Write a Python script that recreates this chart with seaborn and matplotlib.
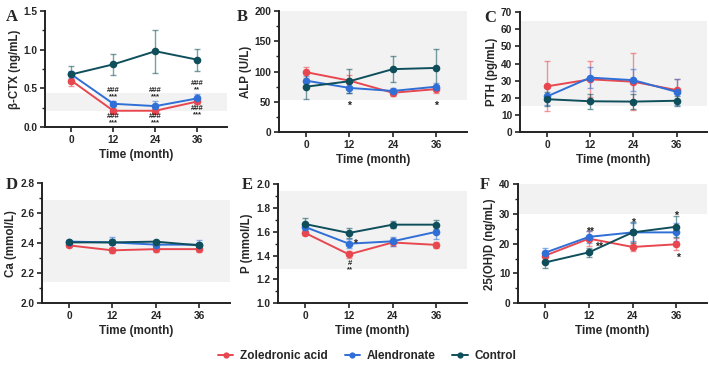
import numpy as np
import pandas as pd
import matplotlib
matplotlib.use("Agg")
import matplotlib.pyplot as plt
from matplotlib.ticker import AutoMinorLocator, MultipleLocator
from matplotlib.lines import Line2D
import seaborn as sns

# ---- data (mean, sd) ----
months = [0, 12, 24, 36]
groups = ["Zoledronic acid", "Alendronate", "Control"]
colors = ["#E8474F", "#2F6FD6", "#0F4F5B"]

ctx_mean = {"Zoledronic acid": [0.60, 0.21, 0.21, 0.33],
            "Alendronate": [0.68, 0.30, 0.27, 0.37],
            "Control": [0.68, 0.81, 0.98, 0.87]}
ctx_sd = {"Zoledronic acid": [0.07, 0.03, 0.03, 0.03],
          "Alendronate": [0.05, 0.03, 0.06, 0.06],
          "Control": [0.11, 0.14, 0.28, 0.14]}

alp_mean = {"Zoledronic acid": [99, 85, 65, 71],
            "Alendronate": [85, 73, 68, 75],
            "Control": [75, 84, 104, 106]}
alp_sd = {"Zoledronic acid": [9, 9, 5, 6],
          "Alendronate": [8, 9, 5, 6],
          "Control": [21, 20, 22, 32]}

pth_mean = {"Zoledronic acid": [26.7, 30.8, 29.4, 24.5],
            "Alendronate": [20.8, 31.8, 30.3, 23.5],
            "Control": [19.2, 18.0, 17.8, 18.3]}
pth_sd = {"Zoledronic acid": [14.5, 10.5, 16.5, 6.5],
          "Alendronate": [5.0, 6.0, 6.5, 7.5],
          "Control": [4.0, 4.5, 4.5, 3.0]}

ca_mean = {"Zoledronic acid": [2.385, 2.352, 2.360, 2.360],
           "Alendronate": [2.410, 2.405, 2.390, 2.390],
           "Control": [2.405, 2.405, 2.410, 2.385]}
ca_sd = {"Zoledronic acid": [0.012, 0.018, 0.018, 0.018],
         "Alendronate": [0.012, 0.035, 0.015, 0.030],
         "Control": [0.010, 0.020, 0.012, 0.015]}

p_mean = {"Zoledronic acid": [1.59, 1.41, 1.51, 1.49],
          "Alendronate": [1.64, 1.50, 1.52, 1.60],
          "Control": [1.665, 1.59, 1.66, 1.66]}
p_sd = {"Zoledronic acid": [0.02, 0.03, 0.03, 0.025],
        "Alendronate": [0.03, 0.04, 0.04, 0.06],
        "Control": [0.05, 0.04, 0.03, 0.04]}

vd_mean = {"Zoledronic acid": [16.0, 21.7, 18.9, 19.8],
           "Alendronate": [17.0, 22.3, 23.8, 23.8],
           "Control": [13.7, 17.1, 23.8, 25.7]}
vd_sd = {"Zoledronic acid": [1.5, 2.5, 1.5, 2.0],
         "Alendronate": [1.5, 2.0, 3.0, 3.0],
         "Control": [2.0, 1.5, 3.5, 3.5]}

# reference ranges (shaded bands)
bands = {"A": (0.21, 0.44), "B": (53, 200), "C": (15, 65),
         "D": (2.14, 2.69), "E": (1.29, 1.94), "F": (30, 40)}

# significance marks (x, y, text) - stacked marks as one text block
marks = {
    "A": [(12, 0.43, "###\n***"), (12, 0.095, "###\n***"),
          (24, 0.43, "###\n***"), (24, 0.095, "###\n***"),
          (36, 0.525, "###\n**"), (36, 0.195, "###\n***")],
    "B": [(12, 44, "*"), (36, 44, "*")],
    "C": [],
    "D": [],
    "E": [(13.7, 1.50, "*"), (12.2, 1.305, "#\n**")],
    "F": [(12.4, 24.0, "**"), (14.8, 19.0, "**"), (24.1, 27.0, "*"),
          (36, 29.5, "*"), (36.4, 15.3, "*")],
}

panels = [
    ("A", "\u03b2-CTX (ng/mL)", ctx_mean, ctx_sd, (0, 1.5), 0.5, True,
     [0.0635, 0.654, 0.257, 0.316]),
    ("B", "ALP (U/L)", alp_mean, alp_sd, (0, 200), 50, True,
     [0.3935, 0.640, 0.265, 0.330]),
    ("C", "PTH (pg/mL)", pth_mean, pth_sd, (0, 70), 10, False,
     [0.7334, 0.640, 0.264, 0.327]),
    ("D", "Ca (mmol/L)", ca_mean, ca_sd, (2.0, 2.8), 0.2, True,
     [0.0592, 0.174, 0.265, 0.327]),
    ("E", "P (mmol/L)", p_mean, p_sd, (1.0, 2.0), 0.2, True,
     [0.392, 0.174, 0.267, 0.324]),
    ("F", "25(OH)D (ng/mL)", vd_mean, vd_sd, (0, 40), 10, True,
     [0.7306, 0.174, 0.267, 0.324]),
]

sns.set_style("ticks")
plt.rcParams["font.family"] = ["Liberation Sans", "DejaVu Sans"]
plt.rcParams["font.weight"] = "bold"

fig = plt.figure(figsize=(7.09, 3.67), dpi=100)

for letter, ylabel, means, sds, ylim, step, minor, pos in panels:
    ax = fig.add_axes(pos)
    rows = []
    for g in groups:
        for m, v, s in zip(months, means[g], sds[g]):
            rows.append({"month": m, "value": v, "sd": s, "group": g})
    df = pd.DataFrame(rows)

    ax.axhspan(*bands[letter], color="#F2F2F2", lw=0, zorder=0)

    for g, c in zip(groups, colors):
        sub = df[df["group"] == g]
        ax.errorbar(sub["month"], sub["value"], yerr=sub["sd"], fmt="none",
                    ecolor=c, alpha=0.55, elinewidth=1.0, capsize=2.5,
                    capthick=1.0, zorder=2)
    sns.lineplot(data=df, x="month", y="value", hue="group", hue_order=groups,
                 palette=colors, marker="o", markersize=5.5, markeredgewidth=0,
                 linewidth=1.4, errorbar=None, legend=False, ax=ax, zorder=3)

    for x, y, t in marks[letter]:
        fs = 5.5 if "#" in t else 7.5
        ax.text(x, y, t, ha="center", va="center", fontsize=fs,
                fontweight="bold", color="#222222", zorder=4,
                linespacing=0.85)

    ax.set_xlim(-7.5, 44.5)
    ax.set_ylim(*ylim)
    ax.set_xticks(months)
    ax.yaxis.set_major_locator(MultipleLocator(step))
    if minor:
        ax.yaxis.set_minor_locator(AutoMinorLocator(2))
    ax.set_xlabel("Time (month)", fontsize=8.5, fontweight="bold", labelpad=3)
    ax.set_ylabel(ylabel, fontsize=8.3, fontweight="bold", labelpad=2)
    ax.tick_params(axis="both", labelsize=7.3, width=1.2, length=3.5, pad=2,
                   color="#222222")
    ax.tick_params(axis="y", which="minor", width=1.0, length=2.2)
    for lab in ax.get_xticklabels() + ax.get_yticklabels():
        lab.set_fontweight("bold")
    sns.despine(ax=ax)
    for sp in ("left", "bottom"):
        ax.spines[sp].set_linewidth(1.4)
        ax.spines[sp].set_color("#222222")

# panel letters
letter_pos = {"A": (0.008, 0.955), "B": (0.334, 0.955), "C": (0.683, 0.950),
              "D": (0.008, 0.497), "E": (0.341, 0.495), "F": (0.676, 0.495)}
for k, (x, y) in letter_pos.items():
    fig.text(x, y, k, fontsize=12, fontweight="bold",
             family=["Liberation Serif", "DejaVu Serif"], va="center")

handles = [Line2D([0], [0], color=c, marker="o", markersize=4.5, lw=1.4,
                  markeredgewidth=0) for c in colors]
fig.legend(handles, groups, loc="center", bbox_to_anchor=(0.518, 0.03), ncol=3,
           frameon=False, handlelength=1.3, columnspacing=1.4,
           handletextpad=0.6, prop={"weight": "bold", "size": 8.5})

fig.savefig("out.png", dpi=100)
